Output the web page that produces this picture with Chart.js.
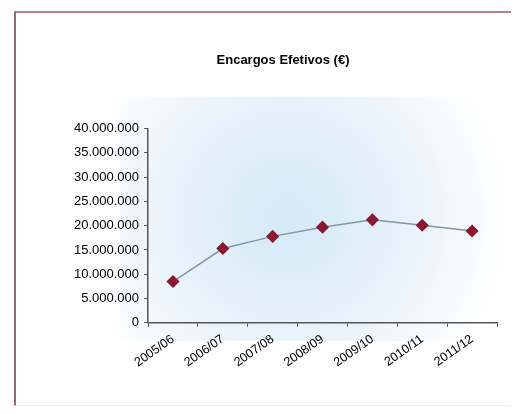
<!DOCTYPE html>
<html>
<head>
<meta charset="utf-8">
<script src="https://cdn.jsdelivr.net/npm/chart.js@4/dist/chart.umd.min.js"></script>
<style>
    html, body { margin: 0; padding: 0; background: #fff; }
    #wrap { position: relative; width: 528px; height: 414px; }
    #frame {
        position: absolute; left: 14px; top: 11px; width: 495px; height: 392px;
        border-left: 2px solid #9c6874; border-top: 2px solid #b3808b;
        border-bottom: 1px solid #f6eef0;
    }
    canvas { position: absolute; left: 0; top: 0; }
</style>
</head>
<body>
<div id="wrap">
    <div id="frame"></div>
    <canvas id="chart" width="528" height="414"></canvas>
</div>
<script>
// Data
const seasons = ['2005/06', '2006/07', '2007/08', '2008/09', '2009/10', '2010/11', '2011/12'];
const encargos = [8500000, 15300000, 17800000, 19700000, 21200000, 20100000, 18900000];
const yTicks = [0, 5000000, 10000000, 15000000, 20000000, 25000000, 30000000, 35000000, 40000000];

// Format number with dots as thousands separator
function formatEuro(v) {
    return v.toString().replace(/\B(?=(\d{3})+(?!\d))/g, '.');
}

// Soft blue fill behind the plot
const plotBackground = {
    id: 'plotBackground',
    beforeDraw(chart) {
        const { ctx, chartArea } = chart;
        const cx = chartArea.left + chartArea.width * 0.4;
        const cy = chartArea.top + chartArea.height * 0.45;
        const grad = ctx.createRadialGradient(cx, cy, 10, cx, cy, 220);
        grad.addColorStop(0, '#d6eaf7');
        grad.addColorStop(0.5, '#e7f2fa');
        grad.addColorStop(1, '#ffffff');
        ctx.save();
        ctx.fillStyle = grad;
        ctx.fillRect(chartArea.left - 28, chartArea.top - 32, chartArea.width + 40, chartArea.height + 50);
        ctx.restore();
    }
};

const ctx = document.getElementById('chart').getContext('2d');
new Chart(ctx, {
    type: 'line',
    data: {
        labels: seasons,
        datasets: [{
            data: encargos,
            borderColor: '#8096ad',
            borderWidth: 1.5,
            pointStyle: 'rectRot',
            pointRadius: 5.5,
            pointBackgroundColor: '#8a1830',
            pointBorderColor: '#8a1830',
            tension: 0,
            fill: false
        }]
    },
    options: {
        responsive: false,
        animation: false,
        layout: { padding: { left: 69, right: 31, top: 53, bottom: 39 } },
        plugins: {
            legend: { display: false },
            tooltip: { enabled: false },
            title: {
                display: true,
                text: 'Encargos Efetivos (€)',
                color: '#000',
                font: { family: 'Liberation Sans, Arial', size: 13, weight: 'bold' },
                padding: { top: 0, bottom: 60 }
            }
        },
        scales: {
            x: {
                offset: true,
                grid: {
                    display: true,
                    offset: true,
                    drawOnChartArea: false,
                    drawTicks: true,
                    tickLength: 4,
                    color: '#555'
                },
                border: { color: '#555', width: 1.5 },
                ticks: {
                    color: '#000',
                    font: { family: 'Liberation Sans, Arial', size: 12.5 },
                    minRotation: 35,
                    maxRotation: 35,
                    padding: 5
                }
            },
            y: {
                min: 0,
                max: 40000000,
                afterBuildTicks(axis) {
                    axis.ticks = yTicks.map(v => ({ value: v }));
                },
                grid: {
                    drawOnChartArea: false,
                    drawTicks: true,
                    tickLength: 4,
                    color: '#555'
                },
                border: { color: '#555', width: 1.5 },
                ticks: {
                    color: '#000',
                    font: { family: 'Liberation Sans, Arial', size: 13 },
                    padding: 5,
                    callback: v => formatEuro(v)
                }
            }
        }
    },
    plugins: [plotBackground]
});
</script>
</body>
</html>
